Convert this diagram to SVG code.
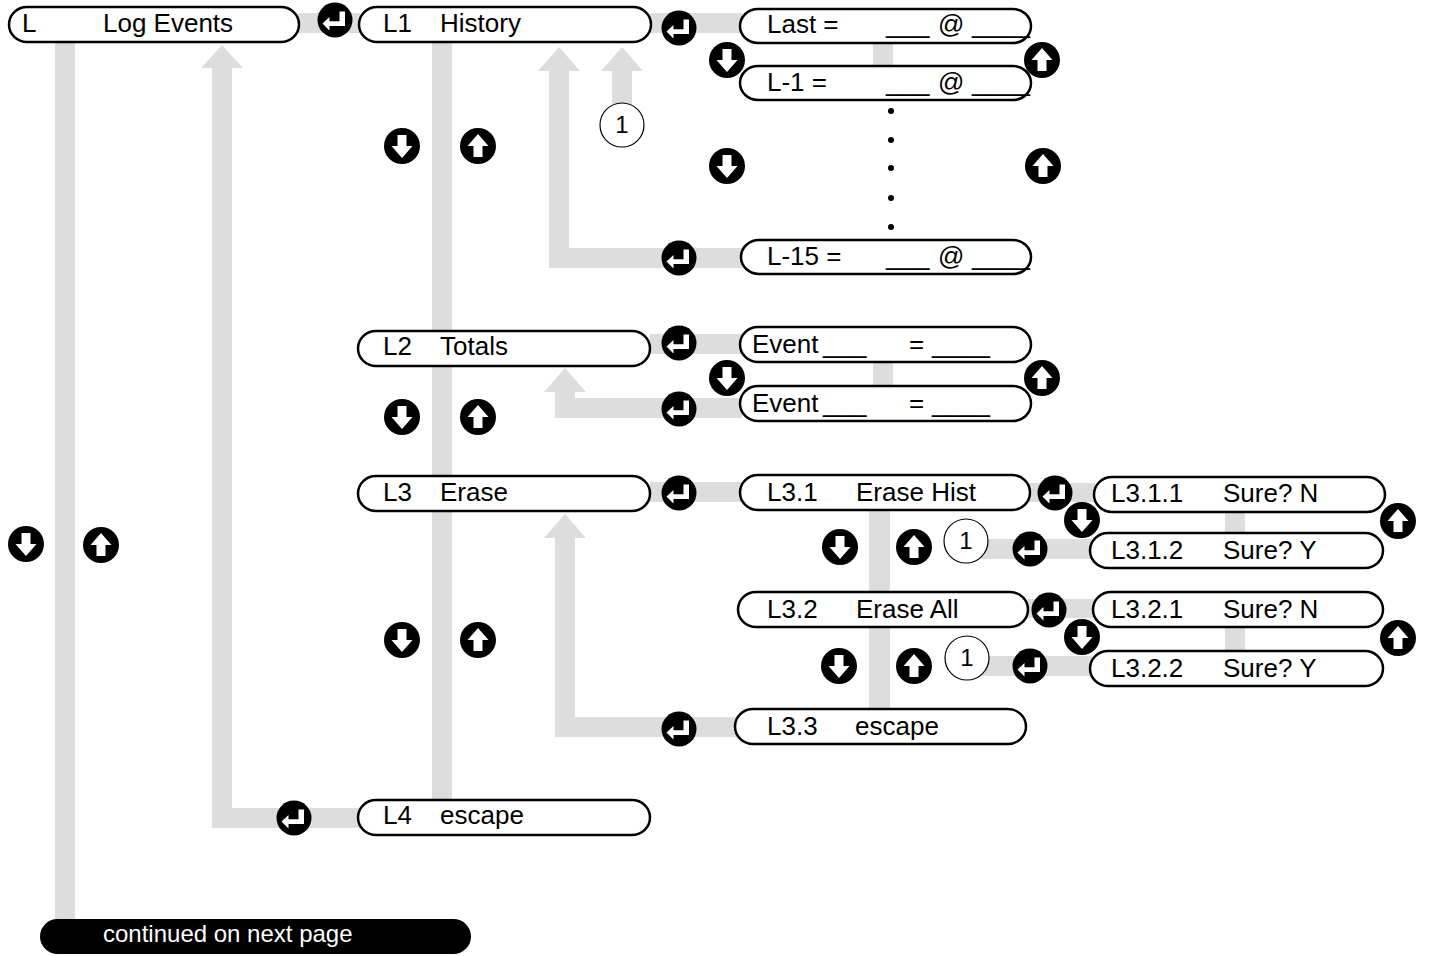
<svg xmlns="http://www.w3.org/2000/svg" width="1431" height="956" viewBox="0 0 1431 956">
<style>
.bar{fill:#dddddd}
.pill{fill:#ffffff;stroke:#000000;stroke-width:2.5}
.t{font-family:"Liberation Sans",Arial,sans-serif;font-size:26px;fill:#000000}
.c1{fill:#ffffff;stroke:#000000;stroke-width:1.2}
.ct{font-family:"Liberation Sans",Arial,sans-serif;font-size:24px;fill:#000000;text-anchor:middle}
.dot{fill:#000000}
</style>
<defs>
<g id="enter"><circle r="17.5" fill="#000"/><path d="M4.5,-8.5 H10 V6 H-5.5 V10.5 L-12.5,3.5 L-5.5,-3 V1.2 H4.5 Z" fill="#fff"/></g>
<g id="down"><circle r="18" fill="#000"/><path d="M-4.5,-11 H4.5 V0 H10.5 L0,12 L-10.5,0 H-4.5 Z" fill="#fff"/></g>
<g id="up"><circle r="18" fill="#000"/><path d="M-4.5,11 H4.5 V0 H10.5 L0,-12 L-10.5,0 H-4.5 Z" fill="#fff"/></g>
</defs>
<rect width="1431" height="956" fill="#ffffff"/>

<g id="connectors">
<rect class="bar" x="55" y="40" width="20" height="882"/>
<rect class="bar" x="298" y="13" width="62" height="20"/>
<rect class="bar" x="212" y="66" width="20" height="762"/>
<rect class="bar" x="212" y="808" width="148" height="20"/>
<polygon class="bar" points="201,68 222,45 243,68"/>
<rect class="bar" x="432" y="40" width="20" height="762"/>
<rect class="bar" x="650" y="13" width="92" height="20"/>
<rect class="bar" x="873" y="42" width="20" height="26"/>
<rect class="bar" x="549" y="69" width="20" height="199"/>
<rect class="bar" x="549" y="248" width="193" height="20"/>
<polygon class="bar" points="538,71 559,47 580,71"/>
<rect class="bar" x="612" y="69" width="20" height="36"/>
<polygon class="bar" points="601,71 622,47 643,71"/>
<rect class="bar" x="650" y="334" width="92" height="20"/>
<rect class="bar" x="873" y="361" width="20" height="27"/>
<rect class="bar" x="555" y="390" width="20" height="28"/>
<rect class="bar" x="555" y="398" width="187" height="20"/>
<polygon class="bar" points="544,392 565,368 586,392"/>
<rect class="bar" x="650" y="482" width="92" height="20"/>
<rect class="bar" x="869" y="509" width="21" height="202"/>
<rect class="bar" x="555" y="536" width="20" height="201"/>
<rect class="bar" x="555" y="717" width="182" height="20"/>
<polygon class="bar" points="544,538 565,514 586,538"/>
<rect class="bar" x="1029" y="483" width="66" height="19"/>
<rect class="bar" x="1225" y="510" width="20" height="24"/>
<rect class="bar" x="966" y="539" width="126" height="20"/>
<rect class="bar" x="1027" y="599" width="68" height="19"/>
<rect class="bar" x="1225" y="626" width="20" height="26"/>
<rect class="bar" x="966" y="656" width="126" height="20"/>

<use href="#enter" x="335" y="20"/>
<use href="#enter" x="679" y="28"/>
<use href="#down" x="727" y="60"/>
<use href="#up" x="1042" y="60"/>
<use href="#down" x="402" y="146"/>
<use href="#up" x="478" y="146"/>
<use href="#down" x="727" y="166"/>
<use href="#up" x="1043" y="166"/>
<use href="#enter" x="679" y="258"/>
<use href="#enter" x="679" y="343"/>
<use href="#down" x="727" y="378"/>
<use href="#up" x="1042" y="378"/>
<use href="#enter" x="679" y="409"/>
<use href="#down" x="402" y="417"/>
<use href="#up" x="478" y="417"/>
<use href="#enter" x="679" y="493"/>
<use href="#enter" x="1055" y="493"/>
<use href="#down" x="1082" y="520"/>
<use href="#up" x="1398" y="521"/>
<use href="#down" x="840" y="547"/>
<use href="#up" x="914" y="547"/>
<use href="#enter" x="1030" y="549"/>
<use href="#enter" x="1049" y="610"/>
<use href="#down" x="1082" y="637"/>
<use href="#up" x="1398" y="638"/>
<use href="#down" x="839" y="666"/>
<use href="#up" x="914" y="666"/>
<use href="#enter" x="1030" y="666"/>
<use href="#down" x="402" y="640"/>
<use href="#up" x="478" y="640"/>
<use href="#enter" x="679" y="729"/>
<use href="#enter" x="294" y="818"/>
<use href="#down" x="26" y="544"/>
<use href="#up" x="101" y="545"/>

<circle class="c1" cx="622" cy="125" r="22"/>
<text class="ct" x="622" y="133">1</text>
<circle class="c1" cx="966" cy="541" r="22"/>
<text class="ct" x="966" y="549">1</text>
<circle class="c1" cx="967" cy="658" r="22"/>
<text class="ct" x="967" y="666">1</text>

<circle class="dot" cx="891" cy="111" r="3"/>
<circle class="dot" cx="891" cy="140" r="3"/>
<circle class="dot" cx="891" cy="168" r="3"/>
<circle class="dot" cx="891" cy="198" r="3"/>
<circle class="dot" cx="891" cy="227" r="3"/>
</g>

<g id="node-L"><rect class="pill" x="9" y="7" width="290" height="35" rx="18"/><text class="t" x="22" y="32">L</text><text class="t" x="103" y="32">Log Events</text></g>
<g id="node-L1"><rect class="pill" x="359" y="7" width="292" height="35" rx="18"/><text class="t" x="383" y="32">L1</text><text class="t" x="440" y="32">History</text></g>
<g id="node-last"><rect class="pill" x="740" y="9" width="291" height="34" rx="18"/><text class="t" x="767" y="33">Last =</text><text class="t" x="886" y="33">___</text><text class="t" x="938" y="33">@</text><text class="t" x="972" y="33">____</text></g>
<g id="node-L-1"><rect class="pill" x="740" y="66" width="291" height="34" rx="18"/><text class="t" x="767" y="91">L-1 =</text><text class="t" x="886" y="91">___</text><text class="t" x="938" y="91">@</text><text class="t" x="972" y="91">____</text></g>
<g id="node-L-15"><rect class="pill" x="741" y="240" width="290" height="34" rx="18"/><text class="t" x="767" y="265">L-15 =</text><text class="t" x="886" y="265">___</text><text class="t" x="938" y="265">@</text><text class="t" x="972" y="265">____</text></g>
<g id="node-L2"><rect class="pill" x="358" y="331" width="292" height="35" rx="18"/><text class="t" x="383" y="355">L2</text><text class="t" x="440" y="355">Totals</text></g>
<g id="node-event1"><rect class="pill" x="740" y="327" width="291" height="35" rx="18"/><text class="t" x="752" y="353">Event</text><text class="t" x="823" y="353">___</text><text class="t" x="909" y="353">=</text><text class="t" x="932" y="353">____</text></g>
<g id="node-event2"><rect class="pill" x="740" y="386" width="291" height="35" rx="18"/><text class="t" x="752" y="412">Event</text><text class="t" x="823" y="412">___</text><text class="t" x="909" y="412">=</text><text class="t" x="932" y="412">____</text></g>
<g id="node-L3"><rect class="pill" x="358" y="476" width="292" height="35" rx="18"/><text class="t" x="383" y="501">L3</text><text class="t" x="440" y="501">Erase</text></g>
<g id="node-L3-1"><rect class="pill" x="740" y="475" width="290" height="35" rx="18"/><text class="t" x="767" y="501">L3.1</text><text class="t" x="856" y="501">Erase Hist</text></g>
<g id="node-L3-1-1"><rect class="pill" x="1094" y="477" width="291" height="35" rx="18"/><text class="t" x="1111" y="502">L3.1.1</text><text class="t" x="1223" y="502">Sure? N</text></g>
<g id="node-L3-1-2"><rect class="pill" x="1090" y="533" width="293" height="35" rx="18"/><text class="t" x="1111" y="559">L3.1.2</text><text class="t" x="1223" y="559">Sure? Y</text></g>
<g id="node-L3-2"><rect class="pill" x="738" y="592" width="290" height="35" rx="18"/><text class="t" x="767" y="618">L3.2</text><text class="t" x="856" y="618">Erase All</text></g>
<g id="node-L3-2-1"><rect class="pill" x="1093" y="592" width="290" height="35" rx="18"/><text class="t" x="1111" y="618">L3.2.1</text><text class="t" x="1223" y="618">Sure? N</text></g>
<g id="node-L3-2-2"><rect class="pill" x="1090" y="651" width="293" height="35" rx="18"/><text class="t" x="1111" y="677">L3.2.2</text><text class="t" x="1223" y="677">Sure? Y</text></g>
<g id="node-L3-3"><rect class="pill" x="735" y="709" width="291" height="35" rx="18"/><text class="t" x="767" y="735">L3.3</text><text class="t" x="855" y="735">escape</text></g>
<g id="node-L4"><rect class="pill" x="358" y="800" width="292" height="35" rx="18"/><text class="t" x="383" y="824">L4</text><text class="t" x="440" y="824">escape</text></g>
<g id="node-continued"><rect x="40" y="919" width="431" height="35" rx="17.5" fill="#000000"/><text x="103" y="942" font-family="Liberation Sans, Arial, sans-serif" font-size="24" fill="#ffffff">continued on next page</text></g>
</svg>
